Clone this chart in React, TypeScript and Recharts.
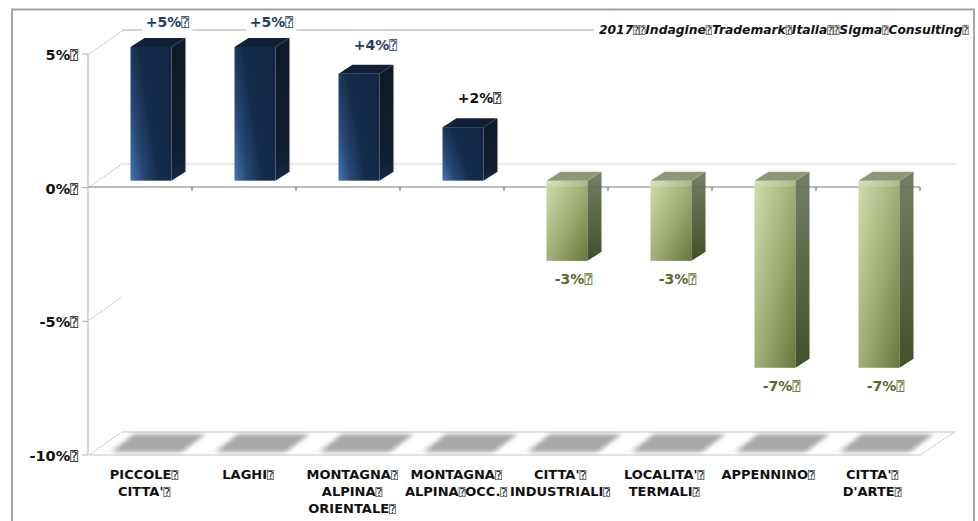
import { BarChart, Bar, XAxis, YAxis, LabelList } from "recharts";

const TOFU = "\u2370";

const categories = [
  `PICCOLE${TOFU}\nCITTA'${TOFU}`,
  `LAGHI${TOFU}`,
  `MONTAGNA${TOFU}\nALPINA${TOFU}\nORIENTALE${TOFU}`,
  `MONTAGNA${TOFU}\nALPINA${TOFU}OCC.${TOFU}`,
  `CITTA'${TOFU}\nINDUSTRIALI${TOFU}`,
  `LOCALITA'${TOFU}\nTERMALI${TOFU}`,
  `APPENNINO${TOFU}`,
  `CITTA'${TOFU}\nD'ARTE${TOFU}`,
];
const values = [5, 5, 4, 2, -3, -3, -7, -7];
const yTicks = [5, 0, -5, -10];
const note = `2017${TOFU}${TOFU}Indagine${TOFU}Trademark${TOFU}Italia${TOFU}${TOFU}Sigma${TOFU}Consulting${TOFU}`;

const data = categories.map((name, i) => ({ name, value: values[i] }));

const WIDTH = 978;
const HEIGHT = 521;
const TOP = 54;
const BOTTOM = 455;
const LEFT = 88;
const RIGHT = 920;
const ZERO = 187;
const STEP = (RIGHT - LEFT) / categories.length;
const FONT = "'DejaVu Sans', sans-serif";

// the fake 3d view: everything on the back wall sits up and right of the axes
const WALL_X = 34;
const WALL_Y = 23;
const BAR_DX = 10.5;
const BAR_DY = -7;
const DEPTH_X = 14;
const DEPTH_Y = 9;

const NAVY = "#1f3d68";
const OLIVE = "#566b2c";
const INK = "#111111";

function Tofu({ text, size }: { text: string; size: number }) {
  const parts = text.split(TOFU);
  return (
    <>
      {parts.map((part, i) => (
        <tspan key={i}>
          {part}
          {i < parts.length - 1 && (
            <tspan
              fontSize={size}
              fontWeight="normal"
              fontStyle="normal"
              fontFamily="'DejaVu Sans Mono', 'DejaVu Sans'"
            >
              {TOFU}
            </tspan>
          )}
        </tspan>
      ))}
    </>
  );
}

function Bar3D(props: any) {
  const { x, y, width, height, value } = props;
  const top = Math.min(y, y + height) + BAR_DY;
  const h = Math.abs(height);
  const left = x + BAR_DX;
  const right = left + width;
  const up = value >= 0;
  const sx = x;
  return (
    <g>
      <polygon
        points={`${sx + 14},${BOTTOM - 21} ${sx + 86},${BOTTOM - 21} ${sx + 62},${BOTTOM - 3} ${sx - 9},${BOTTOM - 3}`}
        fill="#a8a8a8"
        filter="url(#floorBlur)"
      />
      <g opacity={up ? 0.98 : 0.93}>
        <rect x={left} y={top} width={width} height={h} fill={up ? "url(#blueFront)" : "url(#greenFront)"} />
        <polygon
          points={`${right},${top} ${right + DEPTH_X},${top - DEPTH_Y} ${right + DEPTH_X},${top + h - DEPTH_Y} ${right},${top + h}`}
          fill={up ? "url(#blueSide)" : "url(#greenSide)"}
        />
        <polygon
          points={`${left},${top} ${left + DEPTH_X},${top - DEPTH_Y} ${right + DEPTH_X},${top - DEPTH_Y} ${right},${top}`}
          fill={up ? "#0c1d34" : "#87906f"}
        />
      </g>
      {!up && <rect x={left} y={top} width={width} height={ZERO - top} fill="#ffffff" opacity={0.14} />}
    </g>
  );
}

function ValueLabel(props: any) {
  const { x, y, width, height, value } = props;
  const up = value >= 0;
  const cx = x + width / 2 + (up ? 27 : 17);
  const edge = up ? Math.min(y, y + height) : Math.max(y, y + height);
  const cy = up ? Math.max(22, edge - 36) : edge + 11;
  const text = `${up ? "+" : ""}${value}%${TOFU}`;
  return (
    <g>
      <rect x={cx - 25} y={cy - 9} width={50} height={18} fill="#ffffff" />
      <text
        x={cx}
        y={cy + 5}
        textAnchor="middle"
        fontFamily={FONT}
        fontWeight="bold"
        fontSize={14}
        fill={value === 2 ? INK : up ? NAVY : OLIVE}
      >
        <Tofu text={text} size={13} />
      </text>
    </g>
  );
}

function CategoryTick(props: any) {
  const { x, payload } = props;
  const lines = String(payload.value).split("\n");
  return (
    <text x={x + 4} textAnchor="middle" fontFamily={FONT} fontWeight="bold" fontSize={13} fill={INK}>
      {lines.map((line, i) => (
        <tspan key={i} x={x + 4} y={479 + i * 17}>
          <Tofu text={line} size={11} />
        </tspan>
      ))}
    </text>
  );
}

function ValueTick(props: any) {
  const { x, y, payload } = props;
  return (
    <text x={x - 2} y={y + 6} textAnchor="end" fontFamily={FONT} fontWeight="bold" fontSize={14.5} fill={INK}>
      <Tofu text={`${payload.value}%${TOFU}`} size={13} />
    </text>
  );
}

function BackWalls() {
  const levels = [TOP, ZERO, 320];
  return (
    <g>
      <line x1={LEFT + WALL_X} y1={TOP - WALL_Y - 1} x2={594} y2={TOP - WALL_Y - 1} stroke="#a6a6a6" />
      <line x1={LEFT + WALL_X} y1={ZERO - WALL_Y} x2={956} y2={ZERO - WALL_Y} stroke="#d4d4d4" />
      <line x1={LEFT + WALL_X} y1={BOTTOM - WALL_Y} x2={955} y2={BOTTOM - WALL_Y} stroke="#c4c4c4" />
      <line x1={90} y1={BOTTOM} x2={RIGHT} y2={BOTTOM} stroke="#c4c4c4" />
      <line x1={RIGHT} y1={BOTTOM} x2={955} y2={BOTTOM - WALL_Y} stroke="#bdbdbd" strokeDasharray="2 1" />
      {[...levels, BOTTOM].map((py) => (
        <line
          key={py}
          x1={LEFT + 1}
          y1={py}
          x2={LEFT + WALL_X}
          y2={py - WALL_Y}
          stroke="#bdbdbd"
          strokeDasharray="2 1"
        />
      ))}
      <line x1={LEFT} y1={ZERO} x2={RIGHT} y2={ZERO} stroke="#a6a6a6" strokeWidth={1.5} />
      {categories.map((_, i) => (
        <line
          key={i}
          x1={LEFT + STEP * (i + 1)}
          y1={ZERO}
          x2={LEFT + STEP * (i + 1)}
          y2={ZERO + 4}
          stroke="#8c8c8c"
          strokeWidth={1.5}
        />
      ))}
    </g>
  );
}

export default function App() {
  return (
    <div style={{ position: "absolute", left: 0, top: 0, width: WIDTH, height: HEIGHT, background: "#fff" }}>
      <BarChart
        width={WIDTH}
        height={HEIGHT}
        data={data}
        barSize={41}
        margin={{ top: TOP, right: WIDTH - RIGHT, bottom: 0, left: 0 }}
      >
        <defs>
          <linearGradient id="blueFront" x1="0" y1="1" x2="1" y2="0.5">
            <stop offset="0" stopColor="#4172b4" />
            <stop offset="0.25" stopColor="#234672" />
            <stop offset="0.55" stopColor="#102949" />
            <stop offset="1" stopColor="#0e2443" />
          </linearGradient>
          <linearGradient id="blueSide" x1="0" y1="0" x2="0" y2="1">
            <stop offset="0" stopColor="#0b1724" />
            <stop offset="0.8" stopColor="#0c1b2d" />
            <stop offset="1" stopColor="#102644" />
          </linearGradient>
          <linearGradient id="greenFront" x1="0" y1="0" x2="1" y2="1">
            <stop offset="0" stopColor="#cfdaa8" />
            <stop offset="0.5" stopColor="#9aaa6c" />
            <stop offset="1" stopColor="#5c6e30" />
          </linearGradient>
          <linearGradient id="greenSide" x1="0" y1="0" x2="0" y2="1">
            <stop offset="0" stopColor="#6c7558" />
            <stop offset="1" stopColor="#34441a" />
          </linearGradient>
          <filter id="floorBlur" x="-20%" y="-40%" width="140%" height="180%">
            <feGaussianBlur stdDeviation="2" />
          </filter>
          <clipPath id="frameClip">
            <rect x={0} y={0} width={973} height={HEIGHT} />
          </clipPath>
        </defs>
        <BackWalls />
        <XAxis
          dataKey="name"
          height={HEIGHT - BOTTOM}
          interval={0}
          axisLine={false}
          tickLine={false}
          tick={<CategoryTick />}
        />
        <YAxis
          width={LEFT}
          domain={[-10, 5]}
          ticks={yTicks}
          stroke="#b0b0b0"
          tickSize={6}
          tick={<ValueTick />}
        />
        <Bar dataKey="value" isAnimationActive={false} shape={<Bar3D />}>
          <LabelList dataKey="value" content={<ValueLabel />} />
        </Bar>
        <rect x={594} y={20} width={380} height={20} fill="#ffffff" />
        <text
          x={599}
          y={34}
          clipPath="url(#frameClip)"
          fontFamily={FONT}
          fontWeight="bold"
          fontStyle="italic"
          fontSize={12.3}
          fill={INK}
        >
          <Tofu text={note} size={10} />
        </text>
        <polyline
          points={`12,${HEIGHT} 12,9.5 974,9.5 974,${HEIGHT}`}
          fill="none"
          stroke="#a6a6a6"
          strokeWidth={2}
        />
      </BarChart>
    </div>
  );
}
